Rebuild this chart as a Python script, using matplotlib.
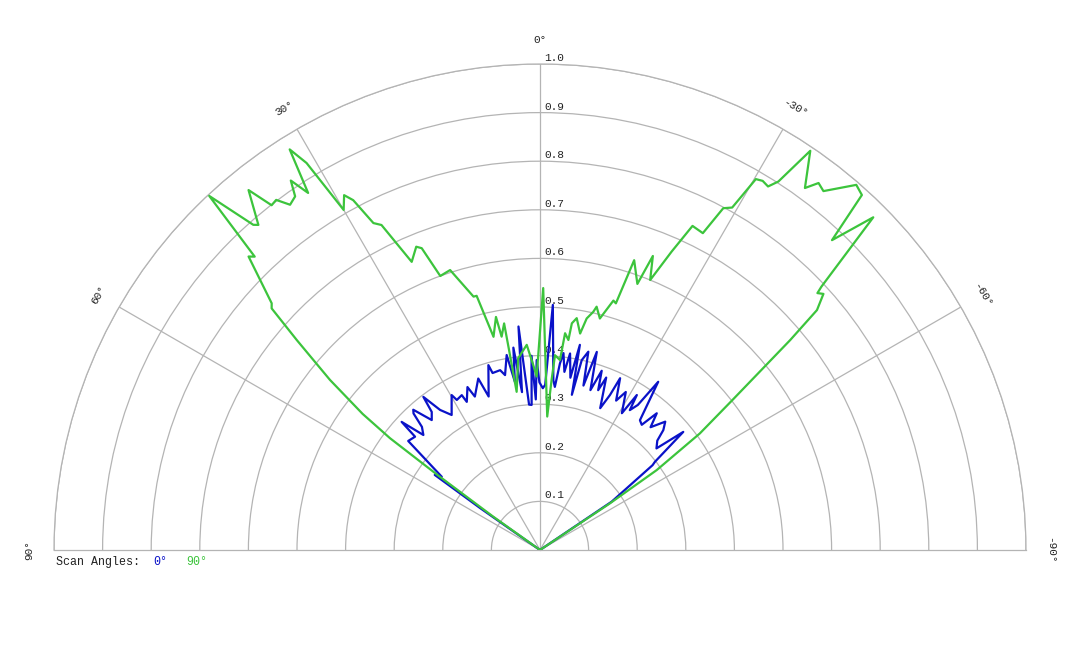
import numpy as np
import matplotlib
matplotlib.use("Agg")
import matplotlib.pyplot as plt
from matplotlib.transforms import offset_copy

# ---- data (theta in degrees, positive = left of 0°) ----
green_theta = [55.5, 54.5, 53.8, 53.3, 52.5, 51.0, 49.2, 48.0, 47.4, 44.8, 44.2, 43.05,
               41.4, 40.9, 39.0, 37.9, 37.0, 35.9, 34.7, 34.0, 33.0, 32.0, 31.1, 30.0,
               28.9, 28.1, 27.0, 26.0, 24.0, 22.2, 21.4, 20.0, 17.8, 14.7, 14.0, 12.3,
               10.7, 10.2, 9.0, 8.8, 8.4, 6.5, 3.7, 2.1, 1.1, -0.7, -3.1, -3.9, -4.4,
               -6.0, -6.6, -7.7, -8.0, -9.0, -10.5, -11.4, -12.6, -13.1, -14.5, -16.4,
               -17.1, -18.0, -20.1, -21.0, -22.2, -23.8, -25.2, -27.2, -28.2, -29.3,
               -30.2, -31.1, -32.1, -32.9, -34.1, -36.2, -37.2, -38.3, -40.9, -42.2,
               -43.3, -45.05, -46.9, -47.2, -47.9, -49.1, -50.0, -52.1, -53.9, -55.6,
               -56.3, -57.0]
green_r = [0.0, 0.12, 0.26, 0.385, 0.46, 0.556, 0.661, 0.743, 0.750, 0.851, 0.842, 0.997,
           0.892, 0.885, 0.953, 0.899, 0.902, 0.877, 0.885, 0.917, 0.876, 0.972, 0.930, 0.808,
           0.834, 0.816, 0.755, 0.744, 0.649, 0.674, 0.667, 0.600, 0.605, 0.539, 0.539, 0.449,
           0.488, 0.446, 0.472, 0.417, 0.329, 0.397, 0.423, 0.381, 0.357, 0.539, 0.275, 0.351, 0.402,
           0.393, 0.449, 0.436, 0.471, 0.483, 0.453, 0.486, 0.502, 0.514, 0.492, 0.535,
           0.531, 0.627, 0.583, 0.648, 0.600, 0.671, 0.737, 0.733, 0.798, 0.808,
           0.883, 0.887, 0.883, 0.903, 0.992, 0.923, 0.948, 0.941, 0.994, 0.986,
           0.876, 0.969, 0.793, 0.778, 0.786, 0.754, 0.672, 0.50, 0.407, 0.291,
           0.173, 0.0]

blue_theta = [57.0, 55.0, 54.5, 53.3, 50.4, 47.8, 47.2, 45.4, 43.8, 42.8, 42.1, 39.8,
              38.1, 37.3, 35.5, 33.2, 29.7, 29.0, 26.8, 26.3, 24.0, 23.0, 19.8, 18.5,
              15.6, 15.0, 12.5, 11.3, 9.7, 8.5, 7.5, 6.5, 5.5, 4.3, 3.3, 2.5, 1.6, 1.0,
              0.2, -1.0, -1.8, -3.0, -4.5, -5.2, -6.1, -6.8, -7.8, -8.7, -10.0, -11.0,
              -11.6, -12.4, -13.7, -14.8, -16.0, -17.5, -19.0, -20.0, -21.0, -23.0,
              -24.3, -25.0, -27.0, -28.5, -30.9, -32.0, -32.7, -34.0, -35.1, -37.6,
              -39.1, -40.5, -42.0, -44.3, -45.8, -47.0, -48.9, -50.5, -52.5, -53.0,
              -56.0, -57.0]
blue_r = [0.0, 0.15, 0.266, 0.252, 0.352, 0.347, 0.388, 0.337, 0.351, 0.383, 0.389, 0.348,
          0.361, 0.396, 0.354, 0.332, 0.367, 0.353, 0.357, 0.340, 0.367, 0.343, 0.375, 0.333,
          0.395, 0.377, 0.379, 0.367, 0.407, 0.35, 0.42, 0.327, 0.462, 0.30, 0.299, 0.40, 0.31, 0.391,
          0.345, 0.333, 0.34, 0.505, 0.35, 0.337, 0.386, 0.408, 0.37, 0.409, 0.36, 0.43,
          0.326, 0.40, 0.42, 0.35, 0.424, 0.345, 0.39, 0.35, 0.38, 0.317,
          0.35, 0.39, 0.345, 0.37, 0.328, 0.376, 0.342, 0.36, 0.423, 0.337,
          0.332, 0.37, 0.34, 0.369, 0.354, 0.33, 0.318, 0.382, 0.298, 0.29,
          0.178, 0.0]

r_ticks = [0.1, 0.2, 0.3, 0.4, 0.5, 0.6, 0.7, 0.8, 0.9, 1.0]
theta_ticks = [90, 60, 30, 0, -30, -60, -90]
theta_labels = ["90°", "60°", "30°", "0°", "-30°", "-60°", "-90°"]
series_names = ["0°", "90°"]

BLUE = "#0a12c8"
GREEN = "#3cc43c"
GRID = "#b4b4b4"
FONT = "Liberation Mono"

fig = plt.figure(figsize=(10.8, 6.48), dpi=100)
# square box: the half-disk is centred vertically inside it
ax = fig.add_axes([54 / 1080, (98 - 243) / 648, 972 / 1080, 972 / 648], projection="polar")
ax.set_theta_zero_location("N")
ax.set_theta_direction(1)
ax.set_thetamin(-90)
ax.set_thetamax(90)
ax.set_ylim(0, 1)
ax.set_rticks(r_ticks)
ax.set_yticklabels([])
ax.set_thetagrids([-60, -30, 0, 30, 60], labels=[""] * 5)
ax.grid(True, color=GRID, lw=0.9)
for sp in ax.spines.values():
    sp.set_color(GRID)
    sp.set_linewidth(0.9)
ax.tick_params(length=0)

ax.plot(np.deg2rad(blue_theta), blue_r, color=BLUE, lw=1.6, solid_joinstyle="round", zorder=3)
ax.plot(np.deg2rad(green_theta), green_r, color=GREEN, lw=1.6, solid_joinstyle="round", zorder=4)

# radial labels along the 0° line
tr = offset_copy(ax.transData, fig=fig, x=4, y=1, units="dots")
for r in r_ticks:
    ax.text(0, r, f"{r:.1f}", transform=tr, ha="left", va="bottom",
            fontsize=8, family=FONT, color="#222222", zorder=2)

# angle labels
for t, lab in zip(theta_ticks, theta_labels):
    ax.text(np.deg2rad(t), 1.05, lab, rotation=t, rotation_mode="anchor",
            ha="center", va="center", fontsize=8, family=FONT, color="#222222",
            clip_on=False)

# legend text
y = 1 - 562 / 648
fig.text(56 / 1080, y, "Scan Angles:", fontsize=8.4, family=FONT, color="#222222", va="center")
fig.text(153 / 1080, y, series_names[0], fontsize=8.4, family=FONT, color=BLUE, va="center")
fig.text(186 / 1080, y, series_names[1], fontsize=8.4, family=FONT, color=GREEN, va="center")

fig.savefig("out.png", dpi=100)
